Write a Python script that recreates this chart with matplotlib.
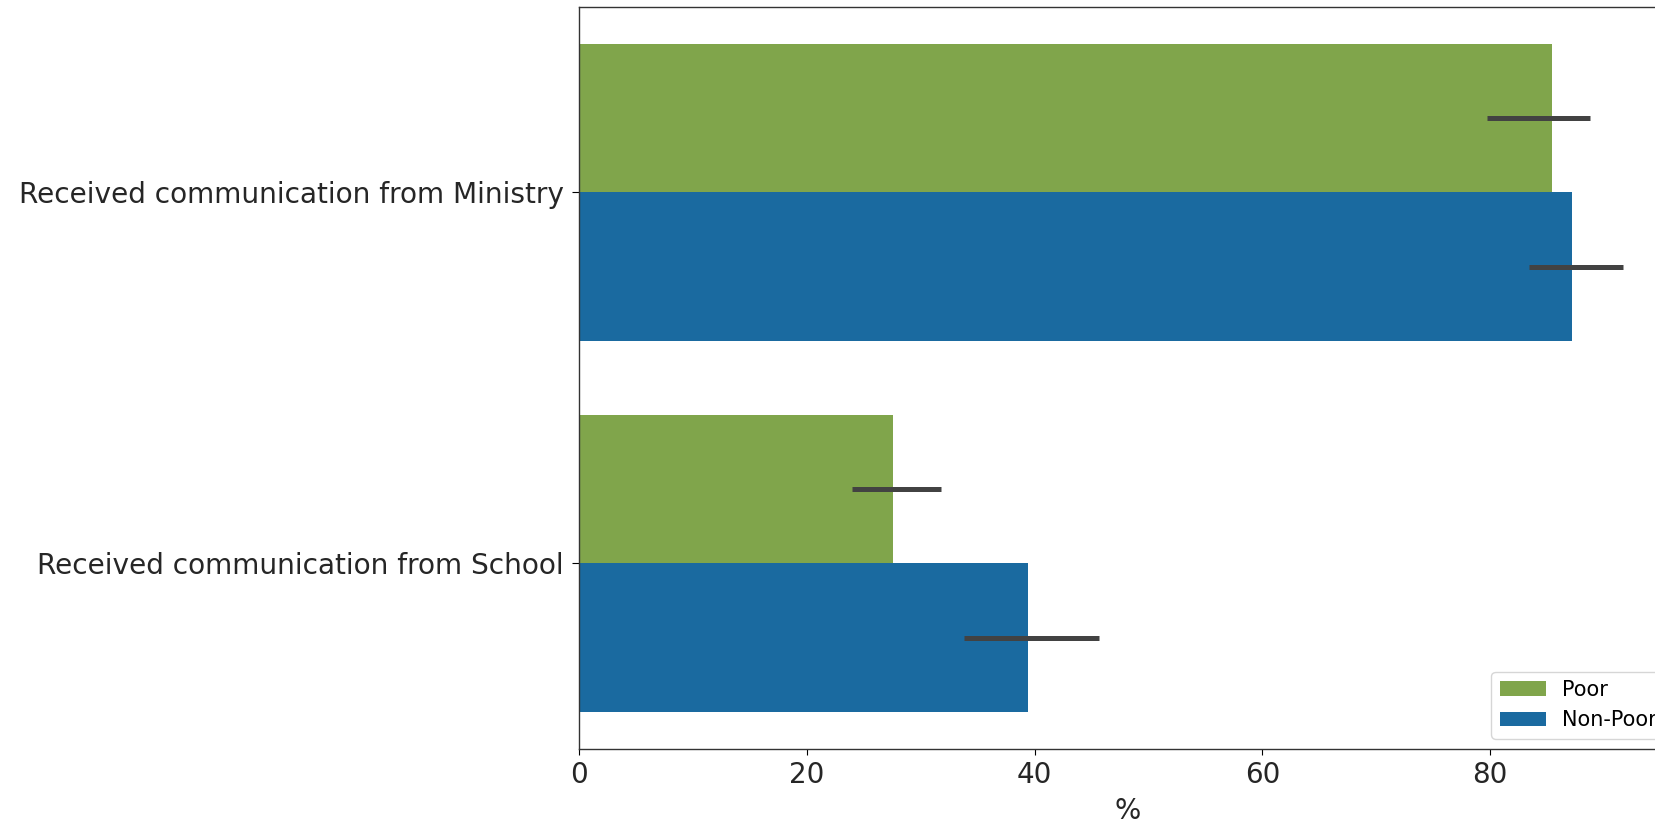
import matplotlib
matplotlib.use("Agg")
import matplotlib.pyplot as plt
import numpy as np

categories = ["Received communication from Ministry", "Received communication from School"]
groups = ["Poor", "Non-Poor"]
poor = [85.4, 27.6]
poor_lo = [79.7, 24.0]
poor_hi = [88.8, 31.8]
nonpoor = [87.2, 39.4]
nonpoor_lo = [83.4, 33.8]
nonpoor_hi = [91.7, 45.7]
colors = ["#80a54b", "#1a6aa0"]

plt.rcParams['font.family'] = ['DejaVu Sans']
fig = plt.figure(figsize=(16.55, 8.27), dpi=100)
ax = fig.add_axes([0.3498, 0.0943, 0.6627, 0.8976])

y = np.arange(len(categories))
series = [(poor, poor_lo, poor_hi), (nonpoor, nonpoor_lo, nonpoor_hi)]
offsets = [-0.2, 0.2]
for (vals, lo, hi), off, col, lab in zip(series, offsets, colors, groups):
    vals = np.array(vals); lo = np.array(lo); hi = np.array(hi)
    ax.barh(y + off, vals, height=0.4, color=col, label=lab)
    ax.errorbar(vals, y + off, xerr=[vals - lo, hi - vals], fmt='none',
                ecolor='#424242', elinewidth=3.6, capsize=0)

ax.set_ylim(1.5, -0.5)
ax.set_yticks(y)
ax.set_yticklabels(categories, fontsize=20.2, color='#262626')
ax.tick_params(axis='y', length=5, pad=6)
ax.set_xticks([0, 20, 40, 60, 80])
ax.tick_params(axis='x', labelsize=20, labelcolor='#262626', length=4.5, pad=4)
ax.set_xlabel('%', fontsize=20, color='#262626', labelpad=6)
for s in ax.spines.values():
    s.set_color('#333333')
    s.set_linewidth(1.0)
ax.legend(loc='lower right', fontsize=15, handlelength=2.2, frameon=True)

fig.savefig('out.png', dpi=100)
